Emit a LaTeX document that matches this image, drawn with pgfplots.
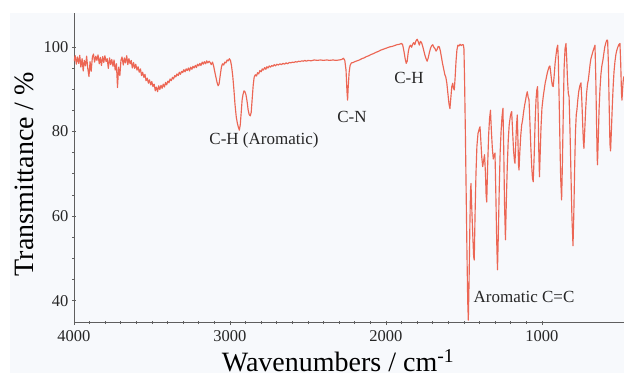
\documentclass[border=0pt]{standalone}
\usepackage{pgfplots}
\usepackage{pgfplotstable}
\pgfplotsset{compat=1.18}
\usepackage{fontspec}
\setmainfont{Liberation Serif}

\definecolor{spec}{RGB}{236,102,84}
\definecolor{panel}{RGB}{247,249,252}
\definecolor{axisgray}{RGB}{95,95,95}

% IR spectrum: wavenumber (cm^-1) versus transmittance (%)
\pgfplotstableread{
wn T
4000 96.6
3992 97.9
3985 95.9
3978 97.6
3970 96.1
3963 98.0
3956 95.2
3948 97.2
3941 94.3
3934 96.8
3926 95.5
3919 97.8
3912 95.0
3904 93.0
3897 96.5
3890 94.2
3882 97.6
3875 98.3
3868 96.4
3860 97.8
3853 96.8
3846 98.1
3838 96.0
3831 97.5
3824 95.6
3816 97.7
3809 96.3
3802 97.9
3794 96.5
3787 97.2
3780 94.9
3772 97.4
3765 95.8
3758 97.0
3750 95.4
3743 96.9
3736 94.5
3728 96.0
3721 90.4
3714 95.2
3706 93.2
3699 96.8
3692 97.6
3684 95.7
3677 97.4
3670 96.2
3662 97.9
3655 95.8
3648 97.2
3640 96.0
3633 96.8
3626 95.0
3618 96.3
3611 94.9
3604 95.9
3596 94.5
3589 95.3
3582 94.0
3574 94.8
3567 93.2
3560 94.0
3552 92.8
3545 93.5
3538 92.0
3530 92.6
3523 91.4
3516 92.2
3508 91.0
3501 91.8
3494 90.6
3486 91.2
3479 89.6
3472 90.5
3464 89.4
3457 90.8
3450 89.9
3442 90.9
3435 90.2
3428 91.2
3420 90.5
3413 91.6
3406 91.0
3398 91.9
3391 91.5
3384 92.4
3376 92.0
3369 92.8
3362 92.4
3354 93.2
3347 92.9
3340 93.6
3332 93.2
3325 94.0
3318 93.5
3310 94.2
3303 93.9
3296 94.6
3288 94.1
3281 94.8
3274 94.4
3266 95.0
3259 94.3
3252 95.2
3244 94.7
3237 95.4
3230 95.0
3222 95.6
3215 95.1
3208 95.9
3200 95.5
3193 96.1
3186 95.6
3178 96.4
3171 95.9
3164 96.5
3156 96.0
3149 96.7
3142 96.2
3134 96.6
3127 96.3
3120 95.8
3112 96.4
3105 95.5
3098 94.2
3090 92.8
3083 91.6
3076 90.8
3070 91.2
3062 93.4
3055 95.2
3048 96.0
3040 95.7
3033 96.4
3026 96.2
3018 96.9
3011 96.7
3004 97.2
2997 96.8
2990 95.5
2982 93.0
2975 90.0
2968 86.5
2960 83.5
2953 82.0
2946 81.0
2940 80.3
2934 81.6
2928 84.5
2922 87.5
2916 88.8
2910 89.6
2904 89.4
2897 88.6
2890 87.0
2884 85.2
2877 84.0
2870 83.7
2864 84.5
2858 87.5
2851 91.0
2845 92.8
2838 93.4
2830 93.1
2823 93.9
2816 93.6
2808 94.4
2800 94.1
2793 94.8
2786 94.5
2778 95.1
2770 94.7
2763 95.3
2756 95.0
2748 95.5
2740 95.2
2732 95.6
2724 95.4
2716 95.8
2708 95.5
2700 95.9
2690 95.7
2680 96.0
2670 95.8
2660 96.1
2650 95.9
2640 96.2
2630 96.0
2620 96.3
2610 96.2
2600 96.4
2590 96.3
2580 96.5
2570 96.4
2560 96.6
2550 96.5
2540 96.7
2530 96.6
2520 96.8
2510 96.6
2500 96.8
2480 96.7
2460 96.9
2440 96.8
2420 96.9
2400 96.8
2380 96.9
2360 96.8
2340 96.9
2320 96.8
2300 96.9
2285 97.0
2272 97.3
2264 96.8
2256 94.5
2250 89.5
2246 87.4
2242 90.5
2236 94.0
2230 95.6
2222 96.2
2210 96.3
2200 96.5
2185 96.7
2170 96.9
2155 97.2
2140 97.4
2125 97.7
2110 97.9
2095 98.2
2080 98.4
2065 98.7
2050 98.9
2035 99.2
2020 99.4
2005 99.6
1990 99.8
1975 100.0
1960 100.1
1945 100.3
1930 100.5
1915 100.6
1900 100.8
1893 100.5
1885 99.0
1877 97.2
1870 96.1
1864 96.6
1857 98.8
1850 100.0
1843 100.4
1836 99.9
1829 100.6
1822 101.0
1815 100.5
1808 101.4
1800 101.8
1793 101.2
1786 100.4
1779 101.3
1772 101.0
1765 100.2
1758 99.2
1750 98.0
1743 97.2
1736 96.6
1729 97.4
1722 98.6
1715 99.6
1708 100.2
1700 100.5
1693 99.9
1686 99.6
1679 99.0
1672 99.4
1665 100.1
1658 100.0
1651 99.0
1644 97.5
1637 96.0
1630 94.8
1623 93.5
1616 92.8
1610 91.5
1603 89.0
1596 86.5
1590 85.4
1584 88.0
1578 90.6
1572 91.4
1567 90.2
1562 89.8
1557 92.5
1551 96.5
1545 99.3
1539 100.4
1532 100.2
1525 100.6
1518 100.3
1511 100.5
1504 100.5
1500 99.5
1496 92.0
1491 80.0
1486 66.0
1481 52.0
1476 40.0
1472 35.4
1467 45.0
1462 58.0
1458 66.0
1455 67.7
1450 62.0
1444 56.0
1438 50.5
1434 49.6
1429 60.0
1423 70.0
1417 76.5
1410 79.5
1403 80.5
1397 81.1
1392 78.0
1386 74.0
1380 71.7
1368 74.5
1362 70.0
1358 65.0
1354 63.3
1348 72.0
1342 79.0
1336 83.0
1330 85.0
1324 80.0
1318 76.0
1312 73.5
1306 74.5
1301 74.9
1296 66.0
1290 54.0
1285 47.3
1280 55.0
1274 66.0
1268 75.0
1262 80.0
1256 83.5
1250 85.5
1245 76.0
1240 63.0
1234 54.4
1228 64.0
1222 72.0
1216 78.0
1210 81.5
1203 83.5
1197 84.5
1194 84.7
1188 80.0
1182 75.5
1176 73.0
1173 72.5
1168 77.0
1163 81.5
1158 83.9
1154 78.0
1150 72.0
1147 70.9
1142 75.0
1136 79.0
1130 81.5
1124 82.7
1118 84.5
1112 86.0
1106 87.2
1100 88.5
1094 89.4
1088 88.0
1083 87.5
1078 83.0
1072 77.0
1066 72.0
1061 69.0
1056 68.1
1050 74.0
1044 82.0
1038 87.5
1033 89.8
1028 90.6
1024 84.0
1020 75.0
1016 69.3
1011 75.0
1006 81.0
1000 85.5
992 88.2
985 90.0
979 91.5
973 92.5
966 93.8
960 94.6
955 95.2
949 95.5
944 94.0
938 92.0
933 90.8
928 90.6
922 93.0
916 96.0
910 98.0
905 99.5
899 100.4
895 97.0
890 88.0
885 78.0
880 69.0
874 63.8
869 72.0
863 85.0
858 95.0
852 99.5
846 100.8
841 97.0
836 92.0
831 89.0
826 88.2
820 80.0
814 70.0
808 60.0
801 53.0
796 60.0
790 72.0
785 80.0
780 84.0
776 85.0
770 87.5
764 89.5
757 90.8
750 91.5
745 88.0
740 83.0
735 78.0
731 76.0
726 80.0
720 85.0
714 89.0
708 91.2
703 92.1
697 94.0
691 96.0
686 97.2
680 98.0
674 98.8
668 99.5
660 100.4
655 93.0
650 82.0
646 74.0
644 72.1
639 78.0
634 85.0
628 90.0
622 93.5
616 95.5
609 96.9
603 98.5
597 100.0
590 101.0
584 101.6
579 101.6
574 96.0
569 86.0
564 77.0
560 75.4
555 80.0
549 86.0
543 91.0
538 94.1
532 96.5
526 98.2
520 99.2
513 100.0
506 100.6
500 100.8
495 96.0
490 89.0
487 87.4
483 90.0
479 92.0
475 93.0
}\spectrum

\begin{document}
\begin{tikzpicture}
% page frame and light panel behind the plot
\useasboundingbox (-74pt,-54.3pt) rectangle (550pt,322.7pt);
\fill[panel] (-64pt,-50.3pt) rectangle (550pt,309.7pt);
\begin{axis}[
  scale only axis,
  width=550pt, height=309.7pt,
  x dir=reverse,
  xmin=474, xmax=4000,
  ymin=34.8, ymax=108,
  axis x line*=bottom,
  axis y line*=left,
  axis line style={axisgray, line width=0.8pt},
  xtick={1000,2000,3000,4000},
  ytick={40,60,80,100},
  minor x tick num=9,
  minor y tick num=3,
  tick align=center,
  major tick length=4pt,
  minor tick length=3pt,
  tick style={axisgray, line width=0.6pt},
  scaled x ticks=false,
  /pgf/number format/1000 sep={},
  /pgf/number format/assume math mode=true,
  ticklabel style={font=\fontsize{16.5}{18}\selectfont, text=black!85},
  xticklabel style={yshift=-2pt},
  xlabel={Wavenumbers / cm\textsuperscript{-1}},
  ylabel={Transmittance / \%},
  xlabel style={font=\fontsize{28}{30}\selectfont, at={(axis description cs:0.48,-0.159)}, anchor=base},
  ylabel style={font=\fontsize{28}{30}\selectfont, at={(axis description cs:-0.0745,0.48)}, anchor=base, rotate=0},
  clip=true,
]
\addplot[spec, line width=1.15pt, line join=round] table[x=wn, y=T] {\spectrum};

\node[font=\fontsize{17}{19}\selectfont, text=black!85] at (axis cs:2782,78.0) {C-H (Aromatic)};
\node[font=\fontsize{17}{19}\selectfont, text=black!85] at (axis cs:2218,83.5) {C-N};
\node[font=\fontsize{17}{19}\selectfont, text=black!85] at (axis cs:1853,92.6) {C-H};
\node[font=\fontsize{17}{19}\selectfont, text=black!85] at (axis cs:1115,40.9) {Aromatic C=C};
\end{axis}
\end{tikzpicture}
\end{document}
